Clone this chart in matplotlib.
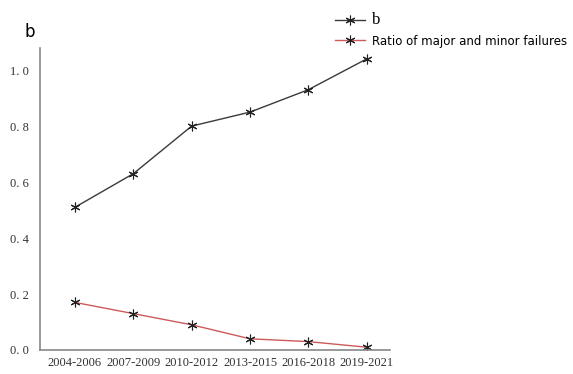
import matplotlib.pyplot as plt

periods = ["2004-2006", "2007-2009", "2010-2012", "2013-2015", "2016-2018", "2019-2021"]
b_values = [0.51, 0.63, 0.80, 0.85, 0.93, 1.04]
ratio_values = [0.17, 0.13, 0.09, 0.04, 0.03, 0.01]

fig = plt.figure(figsize=(5.73, 3.74), dpi=100)
ax = fig.add_axes([40 / 573, 1 - 350 / 374, 350 / 573, 302 / 374])

x = range(len(periods))
star = (6, 2, 0)
ax.plot(x, b_values, color="#3a3a3a", lw=1.0, marker=star, ms=7,
        mec="#222222", mew=0.8, label="b")
ax.plot(x, ratio_values, color="#cc5a5a", lw=1.0, marker=star, ms=7,
        mec="#222222", mew=0.8, label="Ratio of major and minor failures")

ax.set_xlim(-0.6, 5.4)
ax.set_ylim(0, 1.079)
ax.set_xticks(list(x))
ax.set_xticklabels(periods)
ax.set_yticks([0.0, 0.2, 0.4, 0.6, 0.8, 1.0])
ax.set_yticklabels(["0. 0", "0. 2", "0. 4", "0. 6", "0. 8", "1. 0"])
for lbl in ax.get_xticklabels() + ax.get_yticklabels():
    lbl.set_family("Liberation Serif")
    lbl.set_fontsize(9)
    lbl.set_color("#333333")
ax.tick_params(axis="x", length=0, pad=5)
ax.tick_params(axis="y", length=0, pad=8)

for side in ["top", "right"]:
    ax.spines[side].set_visible(False)
for side in ["left", "bottom"]:
    ax.spines[side].set_color("#888888")
    ax.spines[side].set_linewidth(1.2)

fig.text(24 / 573, 1 - 32 / 374, "b", fontsize=12, va="center", ha="left",
         family="DejaVu Sans")

leg = ax.legend(loc="upper left", bbox_to_anchor=(322 / 573, 1.0),
                bbox_transform=fig.transFigure, frameon=False,
                handlelength=2.2, handletextpad=0.5, labelspacing=0.45)
texts = leg.get_texts()
texts[0].set_family("Liberation Serif")
texts[0].set_fontsize(12)
texts[1].set_family("DejaVu Sans")
texts[1].set_fontsize(8.5)

fig.savefig("out.png", dpi=100)
